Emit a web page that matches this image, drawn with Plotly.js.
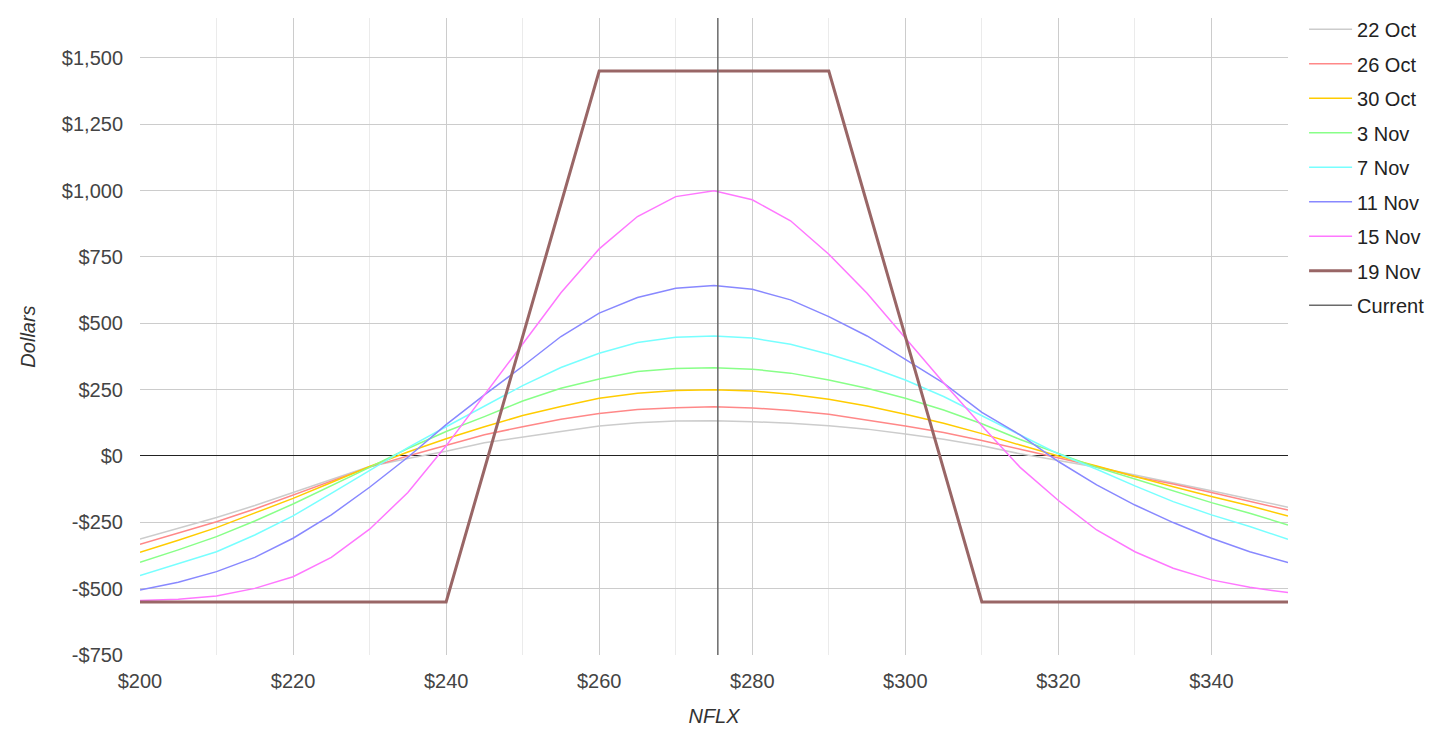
<!DOCTYPE html>
<html>
<head>
<meta charset="utf-8">
<script src="https://cdn.plot.ly/plotly-3.0.1.min.js"></script>
<style>html,body{margin:0;padding:0;background:#fff;}#chart{width:1451px;height:730px;}</style>
</head>
<body>
<div id="chart"></div>
<script>
const strikes = [200,205,210,215,220,225,230,235,240,245,250,255,260,265,270,275,280,285,290,295,300,305,310,315,320,325,330,335,340,345,350];

const oct22 = [-313,-272,-232,-187,-138,-88,-40,-10,18,50,72,92,113,125,132,133,129,123,114,101,83,63,38,8,-17,-43,-72,-101,-131,-162,-193];
const oct26 = [-333,-291,-248,-200,-147,-94,-42,0,40,80,110,138,160,175,182,185,181,171,157,136,113,88,58,25,-8,-40,-78,-106,-138,-170,-204];
const oct30 = [-363,-318,-270,-216,-160,-100,-40,15,65,110,152,186,217,236,247,249,245,232,214,188,157,123,84,41,0,-38,-78,-116,-153,-188,-226];
const nov3  = [-401,-354,-304,-245,-181,-113,-43,28,92,148,207,255,290,318,329,332,327,312,286,255,217,173,121,62,8,-43,-87,-132,-176,-216,-260];
const nov7  = [-451,-407,-361,-298,-226,-141,-55,31,110,188,265,333,387,427,447,452,444,421,383,339,286,224,150,79,8,-50,-113,-172,-222,-266,-314];
const nov11 = [-505,-476,-436,-382,-310,-222,-118,-5,118,230,338,450,538,597,632,642,628,588,525,452,364,274,164,79,-21,-109,-185,-251,-310,-361,-402];
const nov15 = [-545,-540,-528,-499,-455,-382,-276,-138,38,228,422,615,780,902,977,999,965,886,760,613,444,276,114,-43,-168,-279,-361,-423,-467,-495,-515];
const nov19 = [-550,-550,-550,-550,-550,-550,-550,-550,-550,-50,450,950,1450,1450,1450,1450,1450,1450,1450,950,450,-50,-550,-550,-550,-550,-550,-550,-550,-550,-550];

const currentPrice = 275.5;
const currentRange = [-750, 1650];

const seriesNames = ['22 Oct','26 Oct','30 Oct','3 Nov','7 Nov','11 Nov','15 Nov','19 Nov'];
const seriesValues = [oct22, oct26, oct30, nov3, nov7, nov11, nov15, nov19];
const seriesColors = ['#cccccc','#ff8888','#ffcc00','#88ff88','#77ffff','#8888ff','#ff77ff','#996666'];
const seriesWidths = [1.5,1.5,1.5,1.5,1.5,1.5,1.5,3];

const xTickVals = [200,220,240,260,280,300,320,340];
const xTickText = ['$200','$220','$240','$260','$280','$300','$320','$340'];
const yTickVals = [-750,-500,-250,0,250,500,750,1000,1250,1500];
const yTickText = ['-$750','-$500','-$250','$0','$250','$500','$750','$1,000','$1,250','$1,500'];

const traces = seriesNames.map((n,i)=>({
  type:'scatter', mode:'lines', name:n, x:strikes, y:seriesValues[i],
  line:{color:seriesColors[i], width:seriesWidths[i]}, legendgroup:'g'+i, hoverinfo:'x+y'
}));
traces.push({
  type:'scatter', mode:'lines', name:'Current', x:[currentPrice,currentPrice], y:currentRange,
  line:{color:'#6a6a6a', width:1.5}, legendgroup:'gc'
});

const fam = '"Liberation Sans", Arial, sans-serif';
const font = {family:fam, size:20, color:'#444444'};

const layout = {
  width:1451, height:730,
  margin:{l:140, r:163, t:18, b:75, autoexpand:false},
  paper_bgcolor:'#ffffff', plot_bgcolor:'#ffffff',
  font:font,
  showlegend:true,
  legend:{x:1.014, xanchor:'left', y:1.013, yanchor:'top', font:{family:fam, size:20, color:'#222222'}, tracegroupgap:5.5, itemwidth:43, bgcolor:'rgba(0,0,0,0)'},
  xaxis:{
    range:[200,350], tickvals:xTickVals, ticktext:xTickText, ticks:'', showline:false,
    showgrid:true, gridcolor:'#cccccc', gridwidth:1, zeroline:false, automargin:false,
    minor:{dtick:10, tick0:200, showgrid:true, gridcolor:'#ebebeb', gridwidth:1, ticks:''},
    tickfont:{family:fam, size:20, color:'#444444'}, ticklabelstandoff:12,
    title:{text:'NFLX', font:{family:fam, size:20, color:'#333333'}, standoff:17}
  },
  yaxis:{
    range:[-750,1650], tickvals:yTickVals, ticktext:yTickText, ticks:'', showline:false,
    showgrid:true, gridcolor:'#cccccc', gridwidth:1, automargin:false,
    zeroline:true, zerolinecolor:'#222222', zerolinewidth:1,
    tickfont:{family:fam, size:20, color:'#444444'}, ticklabelstandoff:16,
    title:{text:'Dollars', font:{family:fam, size:20, color:'#333333'}, standoff:20}
  }
};

Plotly.newPlot('chart', traces, layout, {displayModeBar:false, staticPlot:true}).then(()=>{
  document.querySelectorAll('.g-xtitle text, .g-ytitle text').forEach(t=>t.style.fontStyle='italic');
});
</script>
</body>
</html>
